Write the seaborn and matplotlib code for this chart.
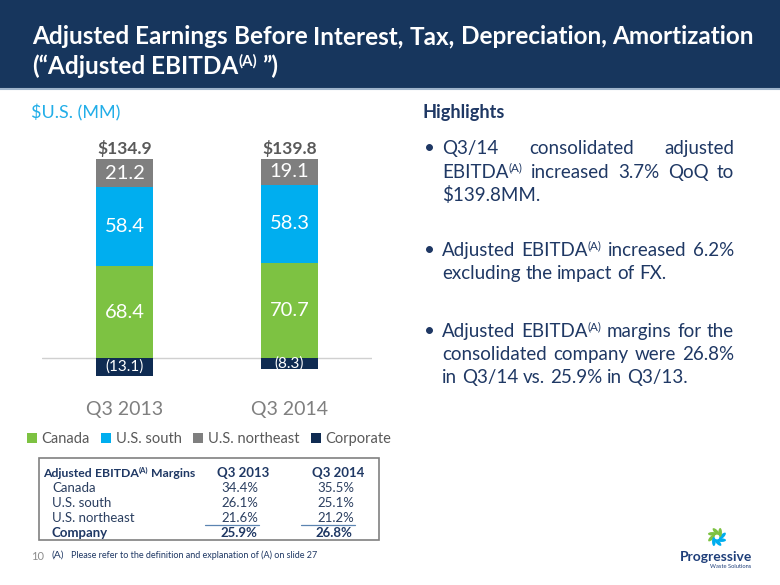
import re
import matplotlib
matplotlib.use("Agg")
import matplotlib.pyplot as plt
import matplotlib.patches as mpatches
import matplotlib.transforms as mtransforms
from matplotlib.lines import Line2D
import numpy as np
import pandas as pd
import seaborn as sns

# ---------------- data ----------------
quarters = ["Q3 2013", "Q3 2014"]
canada = [68.4, 70.7]
us_south = [58.4, 58.3]
us_northeast = [21.2, 19.1]
corporate = [-13.1, -8.3]
totals = [134.9, 139.8]
segments = ["Canada", "U.S. south", "U.S. northeast", "Corporate"]

margin_rows = ["Canada", "U.S. south", "U.S. northeast"]
margin_2013 = ["34.4%", "26.1%", "21.6%"]
margin_2014 = ["35.5%", "25.1%", "21.2%"]
company_margin = ["25.9%", "26.8%"]

title_lines = ["Adjusted Earnings Before Interest, Tax, Depreciation, Amortization",
               "(\u201cAdjusted EBITDA^{(A)} \u201d)"]
highlights = [
    ["Q3/14 consolidated adjusted", "EBITDA^{(A)} increased 3.7% QoQ to", "$139.8MM."],
    ["Adjusted EBITDA^{(A)} increased 6.2%", "excluding the impact of FX."],
    ["Adjusted EBITDA^{(A)} margins for the", "consolidated company were 26.8%",
     "in Q3/14 vs. 25.9% in Q3/13."],
]
footnote = "Please refer to the definition and explanation of (A) on slide 27"

# ---------------- style ----------------
sns.set_style("white")
FONT = "Lato"
plt.rcParams["font.family"] = [FONT, "DejaVu Sans"]

GREEN = "#7DC242"
BLUE = "#00AEEF"
GREY = "#7F7F7F"
NAVY_BAR = "#0F2B52"
NAVY = "#1F3864"
BANNER = "#17365D"
CYAN = "#22AEE8"

W, H = 780, 585
fig = plt.figure(figsize=(W / 100, H / 100), dpi=100)
fig.patch.set_facecolor("white")
R = fig.canvas.get_renderer()
# pixel transform: (x right, y down) in reference pixels
PT = mtransforms.Affine2D().scale(1 / 100, -1 / 100).translate(0, H / 100) + fig.dpi_scale_trans


def text_width(s, size, weight="normal"):
    t = fig.text(0, 0, s, fontsize=size, weight=weight, family=[FONT, "DejaVu Sans"])
    w = t.get_window_extent(renderer=R).width
    t.remove()
    return w


def fit(s, width, weight="normal"):
    return 20 * width / text_width(s, 20, weight)


def parse_word(w):
    runs = []
    for p in re.split(r"(\^\{.*?\})", w):
        if not p:
            continue
        if p.startswith("^{"):
            runs.append((p[2:-1], True))
        else:
            runs.append((p, False))
    return runs


def draw_line(line, x0, yb, size, color, weight="normal", x1=None, zorder=5):
    words = [parse_word(w) for w in line.split(" ")]
    arts, total = [], 0
    for runs in words:
        wr = []
        for s, sup in runs:
            fs = size * 0.62 if sup else size
            t = fig.text(0, 0, s, fontsize=fs, weight=weight, color=color,
                         family=[FONT, "DejaVu Sans"], va="baseline", ha="left",
                         transform=PT, zorder=zorder)
            w = t.get_window_extent(renderer=R).width
            wr.append((t, w, sup))
            total += w
        arts.append(wr)
    sp = text_width("a a", size, weight) - text_width("aa", size, weight)
    if x1 is not None and len(words) > 1:
        gap = (x1 - x0 - total) / (len(words) - 1)
    else:
        gap = sp
    x = x0
    for wr in arts:
        for t, w, sup in wr:
            rise = size * 100 / 72 * 0.36 if sup else 0
            t.set_position((x, yb - rise))
            x += w
        x += gap
    return x


# ---------------- banner ----------------
fig.patches.append(mpatches.Rectangle((0, 0), W, 88, transform=PT, facecolor=BANNER,
                                      edgecolor="none", zorder=0))
fig.lines.append(Line2D([0, W], [88.5, 88.5], transform=PT, color="#9FB4CB", lw=1.5, zorder=1))
tsize = fit(title_lines[0], 720, "bold")
draw_line(title_lines[0], 32, 44, tsize, "white", "bold")
draw_line(title_lines[1], 32, 74, tsize, "white", "bold")

# ---------------- sub headings ----------------
fig.text(31, 118, "$U.S. (MM)", transform=PT, fontsize=fit("$U.S. (MM)", 89), color=CYAN,
         va="baseline", ha="left")
fig.text(423, 118, "Highlights", transform=PT, fontsize=fit("Highlights", 82, "bold"),
         weight="bold", color=NAVY, va="baseline", ha="left")

# ---------------- stacked bar chart ----------------
ax = fig.add_axes([42 / W, 1 - 395 / H, (372 - 42) / W, (395 - 140) / H])
df = pd.DataFrame({"quarter": quarters, "Canada": canada, "U.S. south": us_south,
                   "U.S. northeast": us_northeast, "Corporate": corporate})
df["lvl1"] = df["Canada"]
df["lvl2"] = df["lvl1"] + df["U.S. south"]
df["lvl3"] = df["lvl2"] + df["U.S. northeast"]
for col, c in [("lvl3", GREY), ("lvl2", BLUE), ("lvl1", GREEN), ("Corporate", NAVY_BAR)]:
    sns.barplot(data=df, x="quarter", y=col, order=quarters, color=c, saturation=1,
                width=0.35, errorbar=None, linewidth=0, ax=ax, zorder=3)
ax.axhline(0, color="#D0D0D0", lw=1, zorder=1)
ax.set_xlim(-0.5, 1.5)
ax.set_ylim(-27.5, 162.1)
for s in ax.spines.values():
    s.set_visible(False)
ax.set_yticks([])
ax.set_xlabel("")
ax.set_ylabel("")
ax.tick_params(axis="x", length=0, pad=4, labelsize=14, labelcolor=GREY)
ax.set_xticks(range(len(quarters)))
ax.set_xticklabels(quarters)

LS = 14.5
for i in range(len(quarters)):
    ax.text(i, df["lvl1"][i] / 2, f"{canada[i]:.1f}", ha="center", va="center",
            color="white", fontsize=LS, zorder=5)
    ax.text(i, df["lvl1"][i] + us_south[i] / 2, f"{us_south[i]:.1f}", ha="center",
            va="center", color="white", fontsize=LS, zorder=5)
    ax.text(i, df["lvl2"][i] + us_northeast[i] / 2, f"{us_northeast[i]:.1f}", ha="center",
            va="center", color="white", fontsize=LS, zorder=5)
    ax.text(i, corporate[i] / 2, f"({abs(corporate[i]):.1f})", ha="center", va="center",
            color="white", fontsize=11, zorder=5)
    ax.text(i, df["lvl3"][i] + 8, f"${totals[i]:.1f}", ha="center", va="center",
            color="#595959", fontsize=12.5, weight="bold", zorder=5)

# legend
seg_colors = [GREEN, BLUE, GREY, NAVY_BAR]
handles = [mpatches.Patch(facecolor=c, edgecolor="none", label=s)
           for s, c in zip(segments, seg_colors)]
fig.legend(handles=handles, loc="center", bbox_to_anchor=(209 / W, 1 - 439 / H), ncol=4,
           frameon=False, fontsize=10.5, handlelength=0.7, handleheight=0.7,
           handletextpad=0.3, columnspacing=0.8, labelcolor="#595959",
           borderaxespad=0, borderpad=0)

# ---------------- highlights ----------------
HS = 13.5
bl = [[154, 178, 201], [256, 279], [337, 360, 383]]
for para, ys in zip(highlights, bl):
    fig.text(424, ys[0], "\u2022", transform=PT, fontsize=HS, color=NAVY, va="baseline")
    for k, (line, yb) in enumerate(zip(para, ys)):
        last = k == len(para) - 1
        draw_line(line, 442, yb, HS, NAVY, x1=None if last else 734)

# ---------------- margins table ----------------
fig.patches.append(mpatches.Rectangle((39, 458), 340, 82, transform=PT, facecolor="none",
                                      edgecolor="#808080", lw=1.2, zorder=2))
TS = 9.5
draw_line("Adjusted EBITDA^{(A)} Margins", 43, 477, 8.8, NAVY, "bold")
fig.text(243, 477, quarters[0], transform=PT, fontsize=TS, weight="bold", color=NAVY,
         ha="center", va="baseline")
fig.text(338, 477, quarters[1], transform=PT, fontsize=TS, weight="bold", color=NAVY,
         ha="center", va="baseline")
row_y = [492, 507, 522]
for name, v1, v2, yb in zip(margin_rows, margin_2013, margin_2014, row_y):
    fig.text(52, yb, name, transform=PT, fontsize=TS, color="#2B3F60", va="baseline")
    fig.text(258, yb, v1, transform=PT, fontsize=TS, color="#2B3F60", va="baseline", ha="right")
    fig.text(354, yb, v2, transform=PT, fontsize=TS, color="#2B3F60", va="baseline", ha="right")
fig.lines.append(Line2D([205, 259], [524.5, 524.5], transform=PT, color="#5B84B1", lw=0.9))
fig.lines.append(Line2D([301, 355], [524.5, 524.5], transform=PT, color="#5B84B1", lw=0.9))
fig.text(52, 537, "Company", transform=PT, fontsize=TS, weight="bold", color=NAVY, va="baseline")
fig.text(257, 537, company_margin[0], transform=PT, fontsize=TS, weight="bold", color=NAVY,
         va="baseline", ha="right")
fig.text(352, 537, company_margin[1], transform=PT, fontsize=TS, weight="bold", color=NAVY,
         va="baseline", ha="right")

# ---------------- footer ----------------
fig.text(31, 560, "10", transform=PT, fontsize=8, color="#8C8C8C", va="baseline")
fig.text(51, 558, "(A)", transform=PT, fontsize=7.5, color=NAVY, va="baseline")
fig.text(71, 558, footnote, transform=PT, fontsize=fit(footnote, 248), color=NAVY,
         va="baseline")

# ---------------- logo ----------------
cx, cy = 717, 537
for k in range(8):
    a = np.deg2rad(k * 45 + 10)
    ex, ey = cx + 5.5 * np.cos(a), cy - 5.5 * np.sin(a)
    col = GREEN if k in (1, 2, 3, 4) else BLUE
    fig.patches.append(mpatches.Ellipse((ex, ey), 9, 3.6, angle=-(k * 45 + 10 + 35),
                                        transform=PT, facecolor=col, edgecolor="none",
                                        zorder=3))
fig.text(680, 561, "Progressive", transform=PT, fontsize=fit("Progressive", 72, "bold"),
         weight="bold", color="#1F3F7A", va="baseline")
fig.text(710, 568, "Waste Solutions", transform=PT, fontsize=fit("Waste Solutions", 41),
         color="#1F3F7A", va="baseline")

fig.savefig("out.png", dpi=100, facecolor="white")
